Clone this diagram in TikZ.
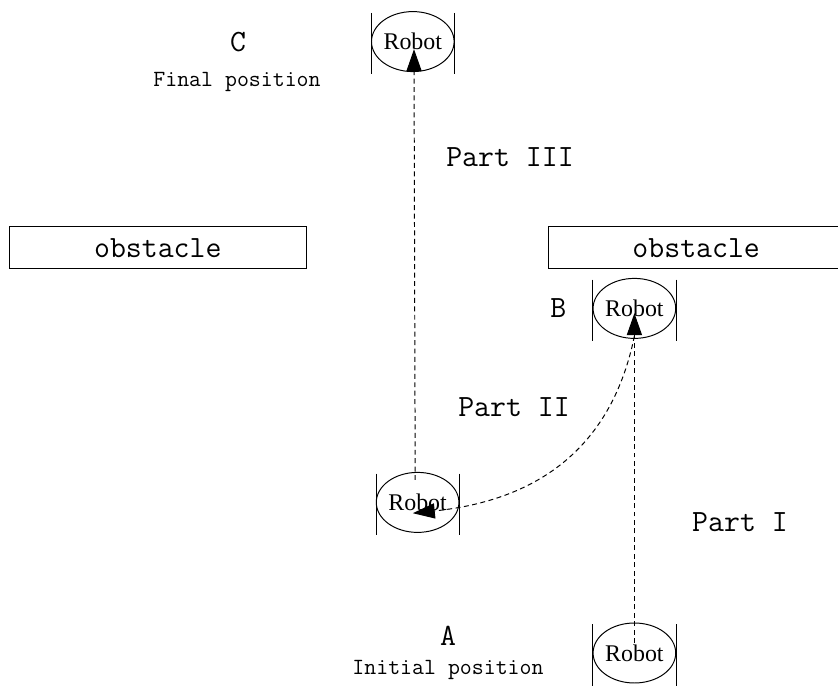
\documentclass[tikz,border=0pt]{standalone}
\usepackage{fontspec}
\setmainfont{Liberation Serif}
\usetikzlibrary{calc,shapes.geometric,arrows.meta}
\def\robot(#1)(#2){\node[robot] (#1) at (#2) {Robot};
	\draw ($(#1)+(-1.04,0.72)$) -- ($(#1)+(-1.04,-0.82)$);
	\draw ($(#1)+(1.04,0.72)$) -- ($(#1)+(1.04,-0.82)$);}
\tikzset{
	robot/.style={draw, ellipse, minimum width=2cm, minimum height=1.5cm, inner sep=0pt, font=\fontsize{17}{20}\selectfont},
	obstacle/.style={draw, rectangle, minimum width=7.41cm, minimum height=1.04cm, inner sep=0pt, font=\ttfamily\fontsize{22}{26}\selectfont},
	biglabel/.style={font=\ttfamily\fontsize{22}{26}\selectfont},
	smalllabel/.style={font=\ttfamily\fontsize{16.5}{20}\selectfont},
	route/.style={dash pattern=on 3.5pt off 2.5pt, -{Triangle[length=5.5mm, width=3.8mm]}}
}
\begin{document}
\begin{tikzpicture}[line width=0.7pt]
			%%%%% START %%%%%
			\useasboundingbox (0, 0) rectangle (20.95, 17.2);
			
			\node[obstacle] (obsLeft) at (3.945, 11.006) {obstacle};
			\node[obstacle] (obsRight) at (17.405, 11.006) {obstacle};
			
			\robot(robotC)(10.32, 16.16)
			\robot(robotB)(15.86, 9.49)
			\robot(robotM)(10.44, 4.64)
			\robot(robotA)(15.86, 0.875)
			
			\node[biglabel] (labelC) at (5.95, 16.15) {C};
			\node[smalllabel] (finalPos) at (5.925, 15.15) {Final position};
			\node[biglabel] (labelB) at (13.96, 9.49) {B};
			\node[biglabel] (labelA) at (11.2, 1.3) {A};
			\node[smalllabel] (initPos) at (11.2, 0.45) {Initial position};
			
			\node[biglabel] (partIII) at (12.75, 13.275) {Part III};
			\node[biglabel] (partII) at (12.85, 7.025) {Part II};
			\node[biglabel] (partI) at (18.5, 4.15) {Part I};
			
			% Part I
			\draw[route] ($(robotA)+(0, 0.25)$) -- ($(robotB)+(0, -0.12)$);
			% Part II
			\draw[route] ($(robotB)+(0, -0.69)$) .. controls (15.3, 6.05) and (13.5, 4.7) .. ($(robotM)+(-0.12, -0.27)$);
			% Part III
			\draw[route] ($(robotM)+(-0.06, 0.56)$) -- ($(robotC)+(0.03, -0.19)$);
			
			%%%%% END %%%%%
\end{tikzpicture}
\end{document}
